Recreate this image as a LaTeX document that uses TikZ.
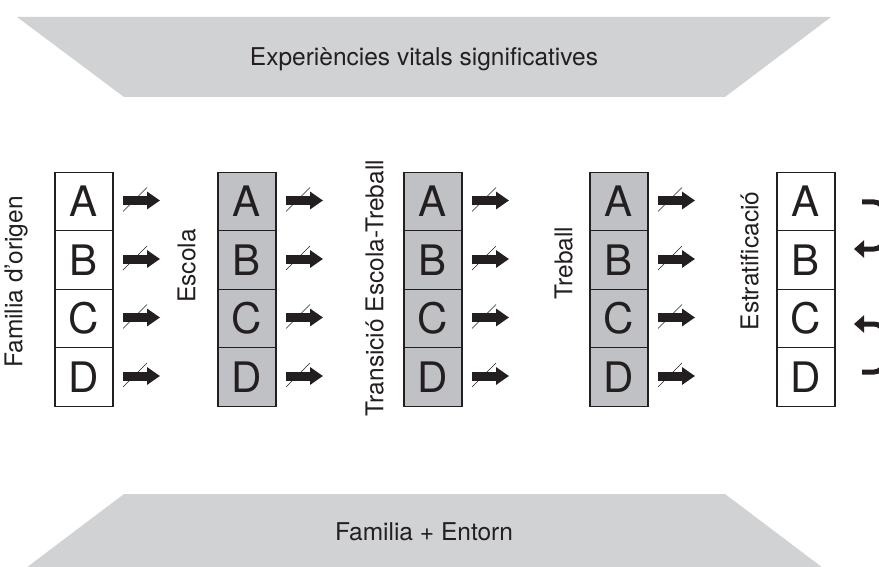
\documentclass[tikz,border=0pt]{standalone}
\usepackage{fontspec}
\setmainfont{TeX Gyre Heros}
\usepackage{xcolor}
\usepackage{tikz}
\usetikzlibrary{arrows.meta,positioning}

\definecolor{bandgray}{HTML}{D1D2D4}
\definecolor{boxgray}{HTML}{C0C1C4}
\definecolor{inkgray}{HTML}{231F20}

\begin{document}
\begin{tikzpicture}[x=1pt,y=-1pt,
                    band/.style={fill=bandgray},
                    bandtext/.style={anchor=base, inner sep=0pt, text=inkgray, font=\fontsize{24.5}{26}\selectfont},
                    cell/.style={draw=inkgray, line width=1.1pt, outer sep=0pt, inner sep=0pt,
                                 minimum width=58pt, minimum height=58.5pt, text=inkgray,
                                 font=\fontsize{42}{42}\selectfont},
                    blank/.style={cell, fill=white},
                    shaded/.style={cell, fill=boxgray},
                    stage/.style={rotate=90, anchor=south, inner sep=0pt, text=inkgray,
                                  font=\fontsize{24.5}{26}\selectfont},
                    flow/.style={line width=9pt, inkgray, -{Triangle[length=13pt,width=17pt]}},
                    cut/.style={line width=0.6pt, inkgray},
                    back/.style={line width=5pt, inkgray, rounded corners=10pt,
                                 -{Triangle[length=10pt,width=17pt]}},
                   ]

\useasboundingbox (0,0) rectangle (879,567);

% grey bands
\fill[band] (17,17) -- (831,17) -- (725,97) -- (124,97) -- cycle;
\fill[band] (124,494) -- (725,494) -- (831,574) -- (18,574) -- cycle;
\node[bandtext] (vitals) at (424,66) {Experiències vitals significatives};
\node[bandtext] (entorn) at (424,540) {Familia + Entorn};

% the five columns
\foreach \col/\x/\look in {1/84/blank,2/247/shaded,3/433/shaded,4/619/shaded,5/806/blank}{
  \node[\look] (c\col A) at (\x,201.5) {A};
  \node[\look, below=0pt of c\col A] (c\col B) {B};
  \node[\look, below=0pt of c\col B] (c\col C) {C};
  \node[\look, below=0pt of c\col C] (c\col D) {D};
}

% column titles
\node[stage] (origen) at (28,282) {Familia d'origen};
\node[stage] (escola) at (196,266) {Escola};
\node[stage] (transicio) at (384,288) {Transició Escola-Treball};
\node[stage] (treball) at (573,263) {Treball};
\node[stage] (estrat) at (759,261) {Estratificació};

% arrows between columns
\foreach \col in {1,...,4}{
  \foreach \row in {A,B,C,D}{
    \draw[flow] ([xshift=10pt,yshift=1pt]c\col\row.east) -- ++(37,0);
    \draw[cut] ([xshift=10pt,yshift=-10pt]c\col\row.east) -- ++(24,-24);
  }
}

% loops back at the end
\draw[back] ([xshift=27pt,yshift=-0.5pt]c5A.east) -- ++(22,0) |- ([xshift=19pt,yshift=11pt]c5B.east);
\draw[back] ([xshift=27pt,yshift=5pt]c5D.east) -- ++(22,0) |- ([xshift=19pt,yshift=-5.5pt]c5C.east);

\end{tikzpicture}
\end{document}
